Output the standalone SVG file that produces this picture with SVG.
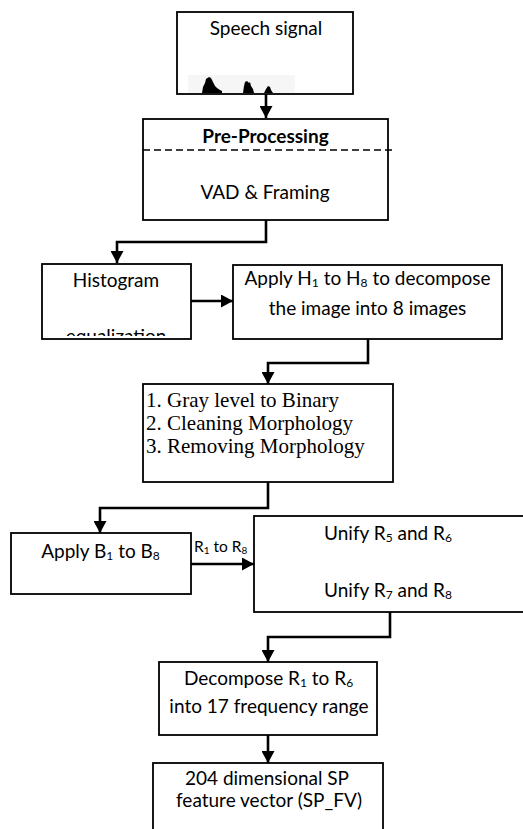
<svg xmlns="http://www.w3.org/2000/svg" width="523" height="829" viewBox="0 0 523 829">
<style>
.box{fill:#fff;stroke:#000;stroke-width:1.8}
.c{fill:none;stroke:#000;stroke-width:2.6}
.t{font-family:Lato,"Open Sans",sans-serif;font-size:19px;fill:#000;text-anchor:middle}
.tm{font-family:"Liberation Serif","Times New Roman",serif;font-size:21px;fill:#000}
.sub{font-size:12px}
</style>
<defs>
<marker id="ah" markerUnits="userSpaceOnUse" markerWidth="13" markerHeight="13" refX="12" refY="6.5" orient="auto">
<path d="M0,0 L12,6.5 L0,13 z" fill="#000"/>
</marker>
<clipPath id="hclip"><rect x="42" y="264" width="149" height="72"/></clipPath>
</defs>
<rect width="523" height="829" fill="#fff"/>

<g id="connectors">
<path class="c" d="M266,94 V118" marker-end="url(#ah)"/>
<path class="c" d="M266,220 V242 H117 V263" marker-end="url(#ah)"/>
<path class="c" d="M191,301 H233" marker-end="url(#ah)"/>
<path class="c" d="M368,339 V363 H268 V384" marker-end="url(#ah)"/>
<path class="c" d="M268,482 V508 H100 V533" marker-end="url(#ah)"/>
<path class="c" d="M191,564 H254" marker-end="url(#ah)"/>
<text x="194" y="552" font-family="Lato,'Open Sans',sans-serif" font-size="15.5" fill="#000">R<tspan font-size="10" dy="2">1</tspan><tspan dy="-2"> to R</tspan><tspan font-size="10" dy="2">8</tspan></text>
<path class="c" d="M390,612 V637 H268 V662" marker-end="url(#ah)"/>
<path class="c" d="M268,735 V763" marker-end="url(#ah)"/>
</g>

<g id="speech">
<rect class="box" x="177" y="12" width="176" height="82"/>
<text class="t" x="266" y="35">Speech signal</text>
<rect x="188" y="75" width="107" height="18" fill="#f6f6f6"/>
<path d="M202,93 L203,87 L205,83 L206,79 L209,77 L211,78 L213,82 L215,86 L217,88 L220,90 L222,91 L222,93 Z" fill="#000"/>
<path d="M243,93 L244,86 L245,82 L247,81 L249,83 L250,82 L251,86 L253,89 L254,93 Z" fill="#000"/>
<path d="M264,93 L266,89 L268,86 L270,87 L271,90 L273,93 Z" fill="#000"/>
</g>

<g id="preprocessing">
<rect class="box" x="143" y="119" width="245" height="101"/>
<line x1="143" y1="150" x2="392" y2="150" stroke="#000" stroke-width="1.6" stroke-dasharray="7,4"/>
<text class="t" x="265.5" y="143" font-weight="bold">Pre-Processing</text>
<text class="t" x="265" y="199">VAD &amp; Framing</text>
</g>

<g id="histogram">
<rect class="box" x="42" y="264" width="149" height="75"/>
<text class="t" x="116" y="287">Histogram</text>
<text class="t" x="116" y="343" clip-path="url(#hclip)">equalization</text>
</g>

<g id="applyH">
<rect class="box" x="233" y="265" width="269" height="74"/>
<text class="t" x="367.5" y="285">Apply H<tspan class="sub" dy="2">1</tspan><tspan dy="-2"> to H</tspan><tspan class="sub" dy="2">8</tspan><tspan dy="-2"> to decompose</tspan></text>
<text class="t" x="367.5" y="315">the image into 8 images</text>
</g>

<g id="morphology">
<rect class="box" x="143" y="384" width="250" height="98"/>
<text class="tm" x="146" y="407">1. Gray level to Binary</text>
<text class="tm" x="146" y="430">2. Cleaning Morphology</text>
<text class="tm" x="146" y="453">3. Removing Morphology</text>
</g>

<g id="applyB">
<rect class="box" x="11" y="533" width="180" height="61"/>
<text class="t" x="100.5" y="558">Apply B<tspan class="sub" dy="2">1</tspan><tspan dy="-2"> to B</tspan><tspan class="sub" dy="2">8</tspan></text>
</g>

<g id="unify">
<rect class="box" x="254" y="516" width="280" height="96"/>
<text class="t" x="388" y="540">Unify R<tspan class="sub" dy="2">5</tspan><tspan dy="-2"> and R</tspan><tspan class="sub" dy="2">6</tspan></text>
<text class="t" x="388" y="597">Unify R<tspan class="sub" dy="2">7</tspan><tspan dy="-2"> and R</tspan><tspan class="sub" dy="2">8</tspan></text>
</g>

<g id="decompose">
<rect class="box" x="159" y="662" width="218" height="73"/>
<text class="t" x="268.5" y="685">Decompose R<tspan class="sub" dy="2">1</tspan><tspan dy="-2"> to R</tspan><tspan class="sub" dy="2">6</tspan></text>
<text class="t" x="269" y="713">into 17 frequency range</text>
</g>

<g id="featurevector">
<rect class="box" x="153" y="763" width="230" height="80"/>
<text class="t" x="267" y="785">204 dimensional SP</text>
<text class="t" x="269" y="807">feature vector (SP_FV)</text>
</g>
</svg>
